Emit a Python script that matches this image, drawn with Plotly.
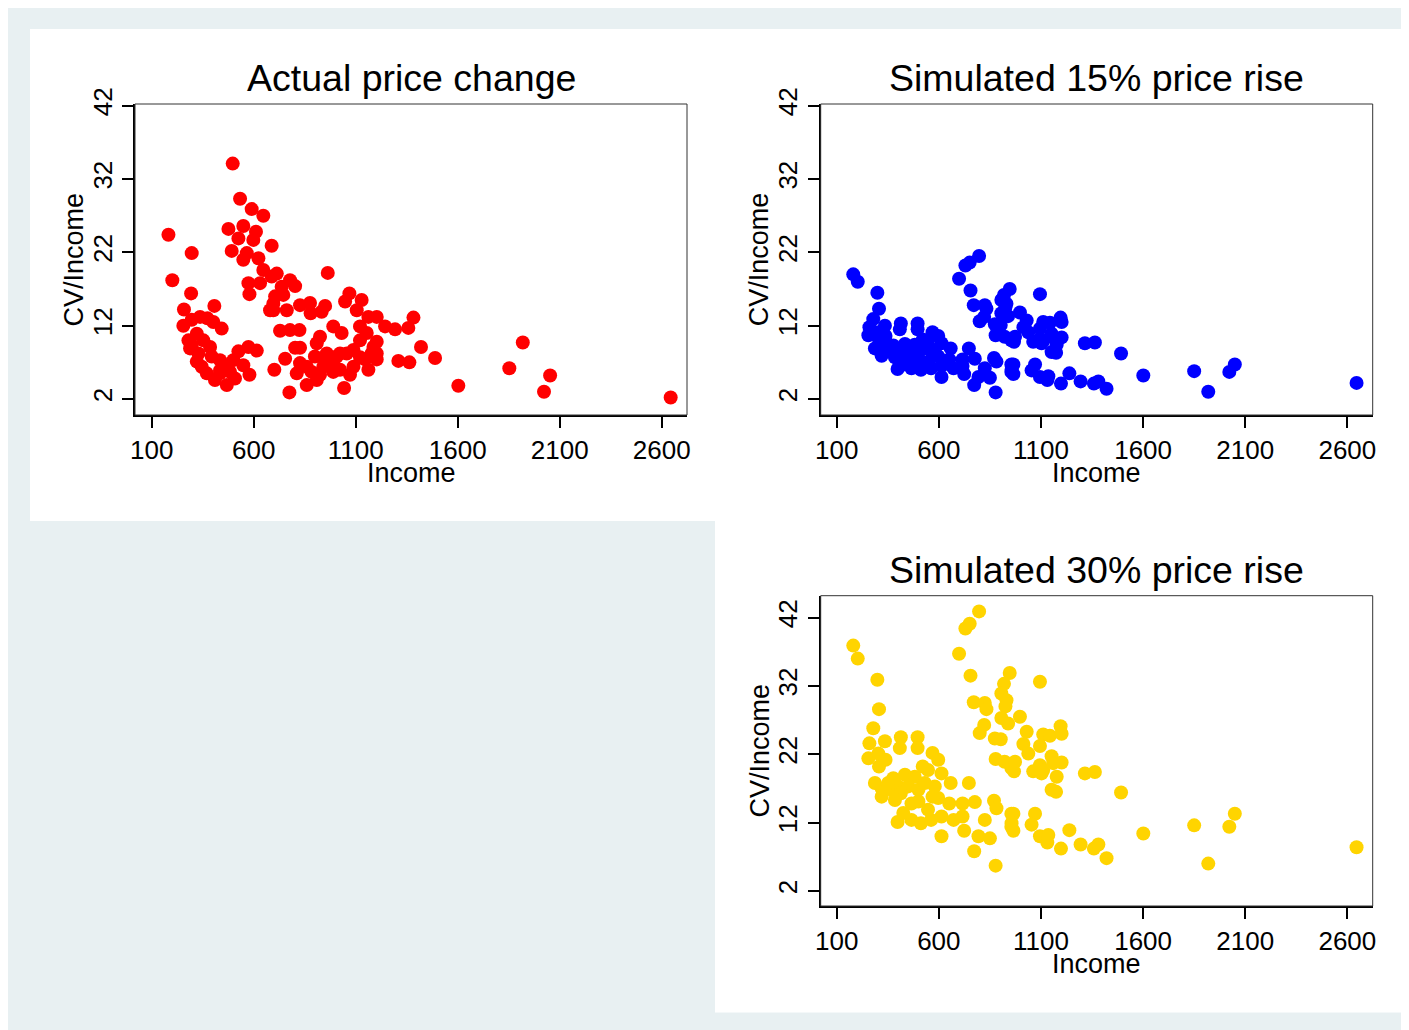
import plotly.graph_objects as go

# ---------------- data ----------------
# Panel 1: actual price change
income_actual = [497, 182, 533, 590, 647, 476, 549, 611, 598, 525, 688, 492, 296, 566, 549, 623, 201, 963, 647, 688,
                 713, 778, 803, 574, 579, 631, 737, 745, 705, 293, 258, 407, 696, 762, 827, 876, 879, 950, 933, 1069,
                 1048, 1129, 1105, 1162, 1203, 1244, 1293, 1309, 255, 296, 337, 373, 402, 443, 280, 321, 288, 353, 386, 321,
                 345, 394, 435, 410, 468, 468, 508, 525, 574, 615, 549, 579, 500, 701, 729, 778, 824, 754, 803, 827,
                 811, 775, 860, 909, 925, 909, 900, 958, 990, 1031, 1023, 990, 941, 925, 990, 1043, 1023, 1089, 1089, 1072,
                 1121, 1154, 1146, 1162, 1178, 1203, 1203, 1187, 1121, 1121, 1203, 860, 884, 827, 958, 1007, 1056, 484, 435, 370,
                 329, 296, 435, 680, 696, 1383, 1358, 1420, 1489, 1363, 1603, 1853, 1919, 2053, 2023, 2644]
cv_actual = [34.1, 24.4, 29.3, 27.9, 27.0, 25.2, 25.6, 24.8, 23.7, 23.9, 22.9, 22.2, 21.9, 21.9, 21.0, 21.2, 18.2, 19.2, 19.6, 18.7,
             19.1, 18.2, 17.4, 17.8, 16.3, 17.8, 17.3, 16.2, 16.0, 16.4, 14.2, 14.7, 14.1, 14.1, 14.8, 15.1, 13.7, 14.7, 13.9, 16.4,
             15.3, 15.5, 14.1, 13.2, 13.2, 11.9, 11.5, 7.2, 12.0, 12.8, 13.2, 13.0, 12.5, 11.6, 10.0, 10.9, 8.9, 10.0, 9.1, 7.1,
             6.4, 7.8, 7.3, 4.6, 3.9, 6.4, 4.8, 8.5, 9.1, 8.6, 6.6, 5.3, 7.3, 6.0, 11.3, 11.4, 11.4, 7.5, 9.0, 6.9,
             5.5, 2.9, 3.9, 4.6, 10.5, 9.6, 7.8, 8.2, 11.9, 11.0, 8.2, 6.9, 6.4, 5.3, 5.7, 3.5, 6.0, 8.7, 6.4, 5.3,
             11.9, 11.0, 7.4, 6.0, 8.2, 9.8, 8.2, 9.1, 7.7, 10.0, 7.4, 6.4, 5.7, 9.0, 7.3, 7.8, 8.2, 5.7, 5.5, 5.5,
             8.2, 9.3, 5.9, 14.1, 15.0, 13.1, 11.7, 9.1, 7.6, 7.0, 3.8, 6.2, 9.7, 5.2, 3.0, 2.2]

# Panels 2 and 3: simulated price rises
income_sim = [181, 203, 299, 307, 279, 260, 336, 255, 304, 339, 307, 414, 409, 496, 496, 569, 597, 699, 730, 751,
              797, 755, 771, 825, 833, 822, 800, 874, 903, 878, 922, 955, 947, 919, 906, 931, 926, 906, 939, 747,
              776, 870, 882, 773, 878, 613, 398, 512, 562, 672, 724, 794, 850, 825, 955, 955, 320, 320, 377, 434,
              482, 547, 613, 658, 368, 401, 450, 500, 500, 547, 597, 651, 716, 716, 613, 466, 426, 352, 414, 531,
              580, 466, 569, 385, 521, 287,
              1095, 997, 1030, 1111, 1144, 1196, 1201, 1014, 1038, 1095, 973, 968, 1062, 1103, 1095, 1152, 1160, 1201, 1177, 1111,
              1315, 1364, 1152, 1174, 1492, 965, 1071, 956, 965, 1054, 1095, 1136, 1131, 1239, 1198, 1294, 1359, 1381, 1421, 1601,
              1850, 2049, 2022, 1919, 2645]
cv_15 = [19.0, 18.0, 16.5, 14.3, 12.9, 11.8, 12.0, 10.7, 11.1, 10.6, 10.1, 12.3, 11.5, 12.3, 11.5, 11.1, 10.6, 18.4, 20.2, 20.6,
         21.5, 16.8, 14.8, 14.8, 14.3, 13.2, 12.6, 12.2, 12.1, 10.7, 10.5, 10.0, 17.0, 16.2, 15.5, 15.0, 14.5, 13.7, 13.3, 8.9,
         7.5, 7.6, 7.1, 3.9, 2.9, 5.0, 6.1, 6.0, 6.2, 6.2, 5.4, 5.0, 4.9, 6.2, 5.7, 6.7, 8.5, 7.9, 9.3, 9.5,
         9.4, 9.9, 9.6, 8.9, 8.4, 8.7, 8.7, 8.4, 7.6, 7.0, 7.8, 7.4, 7.4, 6.5, 6.5, 6.2, 6.7, 8.9, 8.2, 8.9,
         8.7, 7.4, 7.9, 7.7, 10.1, 8.9,
         16.3, 13.8, 12.7, 12.5, 12.4, 13.1, 12.5, 11.8, 11.1, 11.6, 10.5, 9.8, 9.8, 9.6, 10.2, 10.9, 10.4, 10.4, 9.4, 9.9,
         9.6, 9.7, 8.4, 8.3, 8.2, 6.7, 6.7, 6.0, 5.4, 5.9, 5.0, 5.1, 4.6, 5.5, 4.1, 4.4, 4.1, 4.4, 3.4, 5.2,
         5.8, 6.7, 5.7, 3.0, 4.2]
cv_30 = [37.9, 36.0, 32.9, 28.6, 25.8, 23.6, 23.9, 21.4, 22.1, 21.2, 20.2, 24.5, 22.9, 24.5, 22.9, 22.2, 21.2, 36.7, 40.4, 41.1,
         42.9, 33.5, 29.6, 29.5, 28.6, 26.3, 25.1, 24.3, 24.2, 21.3, 20.9, 20.0, 33.9, 32.3, 30.9, 29.9, 29.0, 27.3, 26.5, 17.8,
         15.0, 15.2, 14.1, 7.8, 5.7, 10.0, 12.1, 11.9, 12.4, 12.4, 10.8, 10.0, 9.7, 12.4, 11.4, 13.3, 17.0, 15.8, 18.5, 19.0,
         18.7, 19.7, 19.2, 17.8, 16.8, 17.3, 17.3, 16.8, 15.1, 13.9, 15.6, 14.8, 14.8, 12.9, 12.9, 12.4, 13.4, 17.8, 16.3, 17.8,
         17.3, 14.8, 15.8, 15.3, 20.2, 17.8,
         32.6, 27.5, 25.3, 24.9, 24.7, 26.1, 25.0, 23.5, 22.1, 23.2, 20.9, 19.5, 19.5, 19.2, 20.4, 21.7, 20.7, 20.8, 18.7, 19.7,
         19.2, 19.4, 16.8, 16.5, 16.4, 13.3, 13.3, 11.9, 10.8, 11.7, 10.0, 10.2, 9.1, 10.9, 8.2, 8.8, 8.2, 8.8, 6.8, 10.4,
         11.6, 13.3, 11.4, 6.0, 8.4]

titles = ["Actual price change", "Simulated 15% price rise", "Simulated 30% price rise"]
x_ticks = [100, 600, 1100, 1600, 2100, 2600]
y_ticks = [2, 12, 22, 32, 42]
x_title = "Income"
y_title = "CV/Income"

# ---------------- layout helpers (pixel geometry) ----------------
W, H = 1409, 1030
OFF = 8  # page body margin: the figure is drawn 8px right/down of the window corner
FONT = "Liberation Sans, Arial, sans-serif"


def px(x):
    return (x - OFF) / W


def py(y):
    return 1 - (y - OFF) / H


panels = [
    # plot-area px box (left, top, right, bottom) in window pixels, x-range, y-range, colour, data
    dict(box=(135, 104, 687, 415), xr=[18, 2724], yr=[-0.18, 42.23], color="#FF0000",
         x=income_actual, y=cv_actual, title=titles[0]),
    dict(box=(820.7, 104, 1372.7, 415), xr=[21.6, 2724], yr=[-0.18, 42.23], color="#0000FF",
         x=income_sim, y=cv_15, title=titles[1]),
    dict(box=(820.7, 595.7, 1372.7, 906), xr=[21.6, 2724], yr=[-0.2, 45.2], color="#FFD400",
         x=income_sim, y=cv_30, title=titles[2]),
]

fig = go.Figure()
shapes = []
annotations = []

# outer light background & white panel areas
shapes.append(dict(type="rect", xref="paper", yref="paper", x0=0, x1=1, y0=0, y1=1,
                   fillcolor="#E8F0F2", line=dict(width=0), layer="below"))
for (l, t, r, b) in [(30, 29, 715, 521), (715, 29, 1401, 521), (715, 521, 1401, 1012.5)]:
    shapes.append(dict(type="rect", xref="paper", yref="paper", x0=px(l), x1=px(r), y0=py(b), y1=py(t),
                       fillcolor="white", line=dict(width=0), layer="below"))

for i, p in enumerate(panels, start=1):
    sx = "" if i == 1 else str(i)
    l, t, r, b = p["box"]
    fig.add_trace(go.Scatter(x=p["x"], y=p["y"], mode="markers",
                             marker=dict(color=p["color"], size=14, line=dict(width=0)),
                             xaxis="x" + sx, yaxis="y" + sx, showlegend=False, hoverinfo="x+y"))
    axis_common = dict(showgrid=False, zeroline=False, showline=True, linecolor="black", linewidth=2,
                       ticks="outside", ticklen=11, tickwidth=1.5, tickcolor="black", automargin=False,
                       tickfont=dict(family=FONT, size=26, color="black"))
    fig.layout["xaxis" + sx] = dict(domain=[px(l), px(r)], range=p["xr"], anchor="y" + sx,
                                    tickmode="array", tickvals=x_ticks, **axis_common)
    fig.layout["yaxis" + sx] = dict(domain=[py(b), py(t)], range=p["yr"], anchor="x" + sx,
                                    tickmode="array", tickvals=y_ticks, tickangle=-90, **axis_common)
    # thin frame around plot region
    shapes.append(dict(type="rect", xref="paper", yref="paper", x0=px(l), x1=px(r), y0=py(b), y1=py(t),
                       line=dict(color="#333333", width=1), fillcolor="rgba(0,0,0,0)", layer="above"))
    cx = (l + r) / 2
    cy = (t + b) / 2
    annotations.append(dict(text=p["title"], xref="paper", yref="paper", x=px(cx), y=py(t - 26),
                            xanchor="center", yanchor="middle", showarrow=False,
                            font=dict(family=FONT, size=37.5, color="black")))
    annotations.append(dict(text=x_title, xref="paper", yref="paper", x=px(cx), y=py(b + 58),
                            xanchor="center", yanchor="middle", showarrow=False,
                            font=dict(family=FONT, size=27, color="black")))
    annotations.append(dict(text=y_title, xref="paper", yref="paper", x=px(l - 61), y=py(cy),
                            xanchor="center", yanchor="middle", textangle=-90, showarrow=False,
                            font=dict(family=FONT, size=27, color="black")))

fig.update_layout(template="none", width=W, height=H, margin=dict(l=0, r=0, t=0, b=0, pad=0, autoexpand=False),
                  paper_bgcolor="white", plot_bgcolor="white",
                  shapes=shapes, annotations=annotations, showlegend=False,
                  font=dict(family=FONT, color="black"))

fig.write_html("out.html")
